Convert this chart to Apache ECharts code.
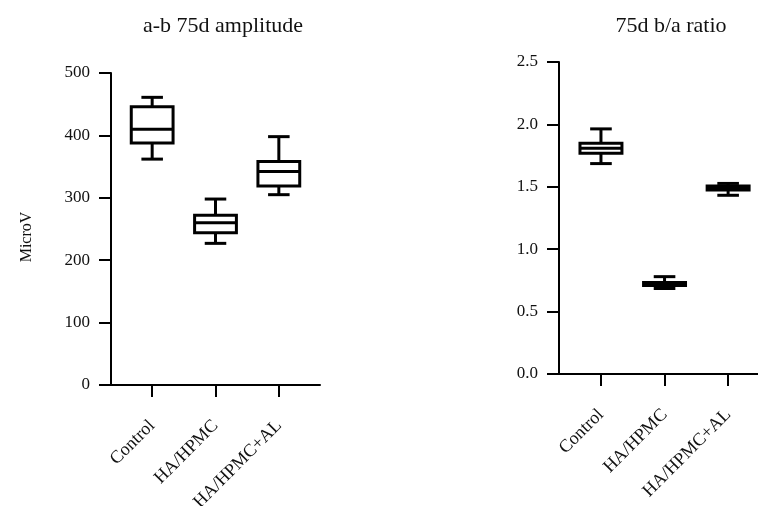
<!DOCTYPE html>
<html>
<head>
<meta charset="utf-8">
<script src="https://cdn.jsdelivr.net/npm/echarts@6/dist/echarts.min.js"></script>
<style>
  html, body { margin: 0; background: #fff; }
  #main { width: 758px; height: 506px; }
</style>
</head>
<body>
<div id="main"></div>
<script>
// groups on the x axis
const groups = ['Control', 'HA/HPMC', 'HA/HPMC+AL'];
// each row: [min, q1, median, q3, max]
const amplitude = [
  [362, 388, 410, 446, 461],
  [227, 244, 260, 272, 298],
  [305, 319, 342, 358, 398]
];
const ratio = [
  [1.686, 1.769, 1.809, 1.849, 1.964],
  [0.685, 0.709, 0.720, 0.733, 0.780],
  [1.432, 1.474, 1.490, 1.506, 1.527]
];
const groupTicks = [0, 1, 2];

const FONT = '"Liberation Serif", "DejaVu Serif", serif';
const INK = '#111';

function toRows(vals) {
  return vals.map((v, i) => [i].concat(v));
}

// box + whiskers drawn from axis coords
function renderBox(params, api) {
  const x = api.value(0);
  const lo = api.coord([x, api.value(1)]);
  const q1 = api.coord([x, api.value(2)]);
  const med = api.coord([x, api.value(3)]);
  const q3 = api.coord([x, api.value(4)]);
  const hi = api.coord([x, api.value(5)]);
  const boxW = api.size([0.66, 0])[0];
  const capW = api.size([0.34, 0])[0];
  const cx = lo[0];
  const st = { stroke: '#000', lineWidth: 3, fill: null };
  const hline = (y, w) => ({ type: 'line', shape: { x1: cx - w / 2, y1: y, x2: cx + w / 2, y2: y }, style: st });
  return {
    type: 'group',
    children: [
      { type: 'line', shape: { x1: cx, y1: hi[1], x2: cx, y2: q3[1] }, style: st },
      { type: 'line', shape: { x1: cx, y1: q1[1], x2: cx, y2: lo[1] }, style: st },
      hline(hi[1], capW),
      hline(lo[1], capW),
      { type: 'rect', shape: { x: cx - boxW / 2, y: q3[1], width: boxW, height: q1[1] - q3[1] },
        style: { stroke: '#000', lineWidth: 3, fill: '#fff' } },
      hline(med[1], boxW)
    ]
  };
}

function xAxisFor(gi, min, max) {
  return {
    type: 'value', gridIndex: gi, min: min, max: max,
    axisLine: { show: true, onZero: false, lineStyle: { color: '#000', width: 2 } },
    axisTick: { show: true, customValues: groupTicks, length: 12, lineStyle: { color: '#000', width: 2 } },
    axisLabel: {
      customValues: groupTicks, rotate: 45, margin: 38,
      formatter: v => groups[v], fontFamily: FONT, fontSize: 18, color: INK
    },
    splitLine: { show: false }
  };
}

function yAxisFor(gi, max, step, fmt, name) {
  return {
    type: 'value', gridIndex: gi, min: 0, max: max, interval: step,
    name: name || '', nameLocation: 'middle', nameGap: 76, nameRotate: 90,
    nameTextStyle: { fontFamily: FONT, fontSize: 16, color: INK, padding: [0, 16, 0, 0] },
    axisLine: { show: true, onZero: false, lineStyle: { color: '#000', width: 2 } },
    axisTick: { show: true, length: 12, lineStyle: { color: '#000', width: 2 } },
    axisLabel: { margin: 21, formatter: fmt, fontFamily: FONT, fontSize: 17, color: INK },
    splitLine: { show: false }
  };
}

const chart = echarts.init(document.getElementById('main'));
chart.setOption({
  backgroundColor: '#fff',
  animation: false,
  title: [
    { text: 'a-b 75d amplitude', left: 218, top: 10, textAlign: 'center',
      textStyle: { fontFamily: FONT, fontSize: 22, fontWeight: 'normal', color: INK } },
    { text: '75d b/a ratio', left: 666, top: 10, textAlign: 'center',
      textStyle: { fontFamily: FONT, fontSize: 22, fontWeight: 'normal', color: INK } }
  ],
  grid: [
    { left: 111, top: 73, width: 209, height: 312, outerBoundsMode: 'none' },
    { left: 559, top: 62, width: 199, height: 312, outerBoundsMode: 'none' }
  ],
  xAxis: [
    xAxisFor(0, -0.65, 2.65),
    xAxisFor(1, -0.66, 2.47)
  ],
  yAxis: [
    yAxisFor(0, 500, 100, v => String(v), 'MicroV'),
    yAxisFor(1, 2.5, 0.5, v => v.toFixed(1))
  ],
  series: [
    { type: 'custom', xAxisIndex: 0, yAxisIndex: 0, renderItem: renderBox, data: toRows(amplitude), clip: false },
    { type: 'custom', xAxisIndex: 1, yAxisIndex: 1, renderItem: renderBox, data: toRows(ratio), clip: false }
  ]
});
</script>
</body>
</html>
